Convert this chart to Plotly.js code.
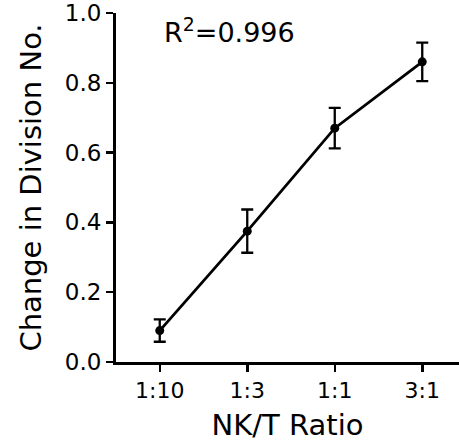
<!DOCTYPE html>
<html>
<head>
<meta charset="utf-8">
<script src="https://cdn.plot.ly/plotly-3.0.1.min.js"></script>
<style>html,body{margin:0;padding:0;background:#fff;}#chart{width:459px;height:442px;}</style>
</head>
<body>
<div id="chart"></div>
<script>
const categories = ["1:10", "1:3", "1:1", "3:1"];
const xIndex = [0, 1, 2, 3];
const changeValues = [0.09, 0.375, 0.67, 0.86];
const errorValues = [0.032, 0.062, 0.058, 0.055];
const yTickValues = [0, 0.2, 0.4, 0.6, 0.8, 1.0];
const yTickLabels = ["0.0", "0.2", "0.4", "0.6", "0.8", "1.0"];
const rSquaredText = "R<sup>2</sup>=0.996";

const fontFam = "DejaVu Sans, Liberation Sans, Arial, sans-serif";

const trace = {
  x: xIndex,
  y: changeValues,
  type: "scatter",
  mode: "lines+markers",
  line: {color: "#000", width: 2.8},
  marker: {color: "#000", size: 9},
  error_y: {type: "data", array: errorValues, visible: true, color: "#000", thickness: 2.3, width: 6},
  hoverinfo: "skip"
};

const layout = {
  width: 459, height: 442,
  margin: {l: 116, r: 0, t: 13, b: 80},
  paper_bgcolor: "#fff", plot_bgcolor: "#fff",
  showlegend: false,
  font: {family: fontFam, color: "#000", size: 22},
  xaxis: {
    range: [-0.5, 3.42],
    tickmode: "array", tickvals: xIndex, ticktext: categories,
    showgrid: false, zeroline: false,
    showline: true, linecolor: "#000", linewidth: 3,
    ticks: "outside", ticklen: 7, tickwidth: 2.5, tickcolor: "#000",
    tickfont: {family: fontFam, size: 22, color: "#000"},
    automargin: false,
    title: {text: "NK/T Ratio", font: {family: fontFam, size: 29, color: "#000"}, standoff: 17}
  },
  yaxis: {
    range: [0, 1.0],
    tickmode: "array", tickvals: yTickValues, ticktext: yTickLabels,
    showgrid: false, zeroline: false,
    showline: true, linecolor: "#000", linewidth: 3,
    ticks: "outside", ticklen: 7, tickwidth: 2.5, tickcolor: "#000",
    tickfont: {family: fontFam, size: 23, color: "#000"},
    automargin: false,
    title: {text: "Change in Division No.", font: {family: fontFam, size: 29, color: "#000"}, standoff: 15}
  },
  annotations: [{
    text: rSquaredText, xref: "paper", yref: "paper",
    x: 0.134, y: 0.951, xanchor: "left", yanchor: "middle", showarrow: false,
    font: {family: fontFam, size: 27, color: "#000"}
  }]
};

Plotly.newPlot("chart", [trace], layout, {staticPlot: true, displayModeBar: false});
</script>
</body>
</html>
